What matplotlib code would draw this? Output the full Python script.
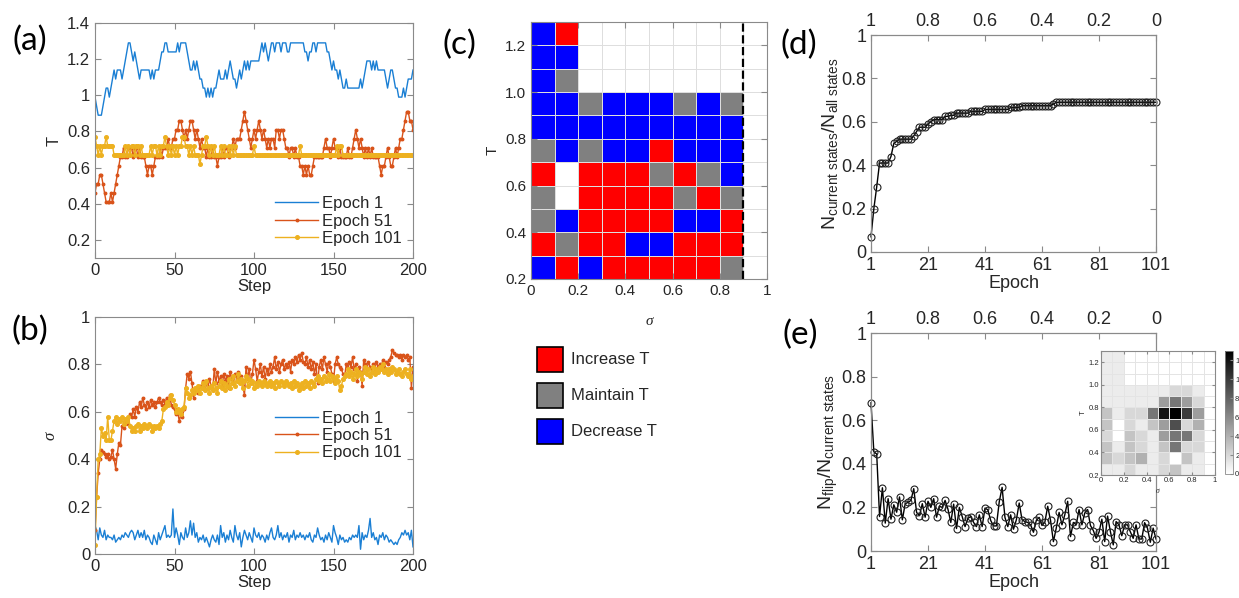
import matplotlib.pyplot as plt
import numpy as np
from matplotlib.colors import ListedColormap, BoundaryNorm
from matplotlib.patches import Rectangle

plt.rcParams['font.family'] = ['Liberation Sans', 'DejaVu Sans']
plt.rcParams['mathtext.fontset'] = 'custom'
plt.rcParams['mathtext.rm'] = 'Liberation Sans'
plt.rcParams['mathtext.it'] = 'Liberation Sans:italic'

# ---------------- data ----------------
steps = np.arange(201)
epochs = np.arange(1, 102)

# (a) temperature T along the 200 steps
T_epoch1 = [
    0.99, 0.94, 0.89, 0.89, 0.89, 0.94, 0.99, 1.04, 1.04, 0.99,
    1.04, 1.09, 1.14, 1.09, 1.14, 1.14, 1.14, 1.09, 1.14, 1.19,
    1.24, 1.29, 1.29, 1.24, 1.19, 1.24, 1.19, 1.14, 1.09, 1.14,
    1.14, 1.14, 1.14, 1.14, 1.14, 1.09, 1.14, 1.09, 1.14, 1.14,
    1.14, 1.19, 1.24, 1.24, 1.29, 1.29, 1.24, 1.24, 1.24, 1.24,
    1.24, 1.24, 1.29, 1.24, 1.29, 1.29, 1.29, 1.29, 1.24, 1.19,
    1.14, 1.14, 1.19, 1.14, 1.19, 1.14, 1.09, 1.09, 1.04, 1.04,
    0.99, 1.04, 0.99, 1.04, 0.99, 1.04, 1.04, 1.09, 1.14, 1.09,
    1.09, 1.09, 1.14, 1.09, 1.14, 1.19, 1.14, 1.09, 1.09, 1.04,
    1.09, 1.14, 1.09, 1.14, 1.19, 1.14, 1.19, 1.14, 1.19, 1.19,
    1.19, 1.19, 1.19, 1.19, 1.24, 1.29, 1.24, 1.29, 1.24, 1.19,
    1.24, 1.29, 1.29, 1.24, 1.29, 1.29, 1.29, 1.24, 1.29, 1.29,
    1.29, 1.24, 1.24, 1.29, 1.29, 1.29, 1.29, 1.29, 1.29, 1.29,
    1.29, 1.29, 1.24, 1.24, 1.19, 1.24, 1.24, 1.29, 1.29, 1.24,
    1.29, 1.29, 1.29, 1.29, 1.29, 1.29, 1.24, 1.24, 1.19, 1.14,
    1.19, 1.14, 1.14, 1.09, 1.14, 1.09, 1.04, 1.04, 1.09, 1.04,
    1.04, 1.04, 1.04, 1.04, 1.04, 1.04, 1.04, 1.09, 1.04, 1.09,
    1.14, 1.19, 1.19, 1.19, 1.14, 1.19, 1.14, 1.19, 1.14, 1.14,
    1.14, 1.14, 1.14, 1.09, 1.04, 1.09, 1.14, 1.14, 1.09, 1.04,
    1.04, 0.99, 0.99, 0.99, 1.04, 0.99, 1.04, 1.09, 1.09, 1.09,
    1.14]
T_epoch51 = [
    0.46, 0.51, 0.51, 0.56, 0.56, 0.51, 0.46, 0.41, 0.41, 0.41,
    0.46, 0.41, 0.46, 0.51, 0.56, 0.61, 0.66, 0.66, 0.71, 0.66,
    0.66, 0.71, 0.71, 0.71, 0.66, 0.71, 0.71, 0.66, 0.71, 0.66,
    0.66, 0.66, 0.61, 0.56, 0.61, 0.61, 0.56, 0.61, 0.66, 0.66,
    0.66, 0.71, 0.66, 0.71, 0.71, 0.71, 0.76, 0.71, 0.71, 0.76,
    0.76, 0.81, 0.81, 0.86, 0.86, 0.81, 0.76, 0.81, 0.76, 0.81,
    0.86, 0.86, 0.81, 0.76, 0.81, 0.76, 0.71, 0.76, 0.71, 0.71,
    0.66, 0.71, 0.66, 0.66, 0.71, 0.66, 0.66, 0.61, 0.66, 0.66,
    0.71, 0.66, 0.71, 0.71, 0.66, 0.71, 0.71, 0.76, 0.71, 0.76,
    0.76, 0.76, 0.81, 0.86, 0.91, 0.86, 0.81, 0.76, 0.71, 0.76,
    0.81, 0.76, 0.81, 0.86, 0.81, 0.76, 0.81, 0.76, 0.71, 0.76,
    0.71, 0.76, 0.76, 0.71, 0.81, 0.81, 0.76, 0.81, 0.81, 0.76,
    0.71, 0.71, 0.66, 0.71, 0.71, 0.66, 0.71, 0.66, 0.66, 0.61,
    0.61, 0.56, 0.61, 0.56, 0.61, 0.56, 0.56, 0.61, 0.66, 0.66,
    0.66, 0.66, 0.66, 0.66, 0.71, 0.76, 0.71, 0.71, 0.66, 0.71,
    0.76, 0.71, 0.71, 0.66, 0.71, 0.66, 0.66, 0.66, 0.66, 0.71,
    0.66, 0.66, 0.71, 0.76, 0.81, 0.76, 0.71, 0.76, 0.71, 0.66,
    0.71, 0.66, 0.71, 0.66, 0.71, 0.66, 0.66, 0.66, 0.66, 0.61,
    0.56, 0.61, 0.61, 0.66, 0.71, 0.66, 0.61, 0.61, 0.66, 0.71,
    0.66, 0.71, 0.76, 0.76, 0.81, 0.86, 0.91, 0.91, 0.86, 0.86,
    0.81]
T_epoch101 = ([
    0.77, 0.72, 0.67, 0.72, 0.67, 0.72, 0.72, 0.77, 0.72, 0.72,
    0.72, 0.72, 0.67, 0.67, 0.67, 0.67, 0.67, 0.67, 0.67, 0.72,
    0.67, 0.72, 0.67, 0.72, 0.72, 0.67, 0.72, 0.72, 0.67, 0.72,
    0.67, 0.67, 0.67, 0.67, 0.67, 0.72, 0.67, 0.72, 0.72, 0.67,
    0.72, 0.67, 0.72, 0.72, 0.77, 0.72, 0.67, 0.72, 0.67, 0.72,
    0.67, 0.72, 0.67, 0.72, 0.72, 0.77, 0.77, 0.72, 0.72, 0.67,
    0.72, 0.67, 0.72, 0.67, 0.67, 0.67, 0.62, 0.67, 0.72, 0.72,
    0.77, 0.72, 0.67, 0.72, 0.67, 0.72, 0.67, 0.67, 0.67, 0.72,
    0.67, 0.72, 0.67, 0.67, 0.72, 0.67, 0.72, 0.67, 0.72, 0.67]
    + [0.67] * 10 + [0.72] + [0.67] * 28 + [0.72] + [0.67] * 22
    + [0.72, 0.67, 0.72, 0.72] + [0.67] * 45)

# (b) sigma along the 200 steps
S_epoch1 = [
    0.12, 0.10, 0.06, 0.11, 0.08, 0.07, 0.10, 0.06, 0.08, 0.07,
    0.07, 0.06, 0.08, 0.05, 0.06, 0.07, 0.06, 0.08, 0.07, 0.09,
    0.08, 0.07, 0.09, 0.10, 0.09, 0.06, 0.08, 0.10, 0.07, 0.09,
    0.07, 0.10, 0.06, 0.08, 0.07, 0.05, 0.04, 0.08, 0.06, 0.04,
    0.09, 0.06, 0.08, 0.10, 0.12, 0.07, 0.08, 0.07, 0.08, 0.19,
    0.07, 0.11, 0.08, 0.04, 0.09, 0.07, 0.06, 0.11, 0.07, 0.09,
    0.14, 0.08, 0.13, 0.07, 0.09, 0.05, 0.07, 0.06, 0.08, 0.05,
    0.07, 0.05, 0.03, 0.06, 0.08, 0.06, 0.05, 0.08, 0.04, 0.12,
    0.07, 0.09, 0.05, 0.08, 0.06, 0.10, 0.07, 0.05, 0.12, 0.08,
    0.06, 0.09, 0.03, 0.07, 0.10, 0.08, 0.06, 0.09, 0.07, 0.05,
    0.11, 0.08, 0.07, 0.09, 0.06, 0.08, 0.07, 0.05, 0.08, 0.06,
    0.09, 0.11, 0.07, 0.06, 0.08, 0.12, 0.07, 0.09, 0.06, 0.08,
    0.07, 0.09, 0.05, 0.08, 0.07, 0.10, 0.06, 0.08, 0.07, 0.09,
    0.07, 0.08, 0.06, 0.08, 0.07, 0.09, 0.06, 0.05, 0.08, 0.07,
    0.11, 0.08, 0.06, 0.07, 0.05, 0.08, 0.06, 0.09, 0.07, 0.05,
    0.12, 0.09, 0.07, 0.04, 0.08, 0.06, 0.07, 0.05, 0.06, 0.05,
    0.07, 0.06, 0.08, 0.07, 0.08, 0.07, 0.12, 0.02, 0.09, 0.06,
    0.08, 0.07, 0.10, 0.15, 0.07, 0.09, 0.06, 0.07, 0.04, 0.08,
    0.07, 0.09, 0.06, 0.08, 0.07, 0.05, 0.06, 0.05, 0.04, 0.05,
    0.04, 0.06, 0.07, 0.09, 0.08, 0.10, 0.08, 0.09, 0.06, 0.10,
    0.03]
S_epoch51 = [
    0.10, 0.24, 0.34, 0.40, 0.44, 0.43, 0.42, 0.41, 0.42, 0.40,
    0.41, 0.44, 0.40, 0.36, 0.42, 0.47, 0.46, 0.54, 0.53, 0.55,
    0.57, 0.55, 0.59, 0.58, 0.61, 0.58, 0.62, 0.60, 0.64, 0.62,
    0.66, 0.63, 0.61, 0.64, 0.62, 0.65, 0.63, 0.64, 0.62, 0.64,
    0.66, 0.64, 0.63, 0.65, 0.63, 0.66, 0.64, 0.67, 0.63, 0.62,
    0.61, 0.59, 0.60, 0.56, 0.59, 0.58, 0.61, 0.70, 0.76, 0.74,
    0.77, 0.72, 0.66, 0.69, 0.70, 0.68, 0.71, 0.70, 0.73, 0.69,
    0.72, 0.70, 0.74, 0.71, 0.69, 0.78, 0.72, 0.77, 0.73, 0.75,
    0.71, 0.76, 0.73, 0.75, 0.70, 0.77, 0.74, 0.72, 0.76, 0.74,
    0.77, 0.73, 0.75, 0.71, 0.67, 0.79, 0.74, 0.78, 0.72, 0.76,
    0.82, 0.78, 0.73, 0.77, 0.80, 0.75, 0.79, 0.74, 0.78, 0.76,
    0.80, 0.77, 0.79, 0.83, 0.78, 0.81, 0.77, 0.80, 0.82, 0.78,
    0.80, 0.79, 0.81, 0.77, 0.82, 0.80, 0.83, 0.81, 0.84, 0.82,
    0.85, 0.81, 0.80, 0.83, 0.79, 0.82, 0.78, 0.81, 0.76, 0.80,
    0.72, 0.79, 0.82, 0.78, 0.83, 0.80, 0.77, 0.81, 0.79, 0.76,
    0.73, 0.80, 0.83, 0.80, 0.79, 0.78, 0.76, 0.75, 0.80, 0.78,
    0.81, 0.79, 0.83, 0.78, 0.80, 0.73, 0.79, 0.77, 0.71, 0.82,
    0.80, 0.78, 0.81, 0.79, 0.77, 0.80, 0.78, 0.81, 0.79, 0.80,
    0.78, 0.82, 0.79, 0.81, 0.80, 0.82, 0.83, 0.86, 0.85, 0.84,
    0.84, 0.83, 0.84, 0.82, 0.84, 0.83, 0.84, 0.82, 0.83, 0.70,
    0.79]
S_epoch101 = [
    0.04, 0.24, 0.40, 0.42, 0.53, 0.50, 0.51, 0.48, 0.58, 0.48,
    0.48, 0.52, 0.56, 0.58, 0.55, 0.57, 0.56, 0.58, 0.55, 0.57,
    0.56, 0.58, 0.54, 0.52, 0.53, 0.52, 0.54, 0.55, 0.52, 0.54,
    0.53, 0.55, 0.54, 0.53, 0.55, 0.54, 0.52, 0.54, 0.53, 0.54,
    0.53, 0.55, 0.56, 0.61, 0.62, 0.64, 0.63, 0.66, 0.67, 0.65,
    0.63, 0.60, 0.61, 0.60, 0.59, 0.61, 0.62, 0.70, 0.68, 0.66,
    0.67, 0.69, 0.68, 0.70, 0.69, 0.71, 0.68, 0.70, 0.72, 0.69,
    0.73, 0.70, 0.68, 0.71, 0.69, 0.72, 0.70, 0.68, 0.71, 0.73,
    0.70, 0.72, 0.69, 0.71, 0.74, 0.70, 0.72, 0.75, 0.71, 0.73,
    0.76, 0.72, 0.74, 0.70, 0.73, 0.75, 0.71, 0.74, 0.72, 0.73,
    0.70, 0.72, 0.71, 0.73, 0.72, 0.71, 0.73, 0.72, 0.71, 0.72,
    0.73, 0.71, 0.72, 0.70, 0.73, 0.72, 0.71, 0.73, 0.72, 0.71,
    0.73, 0.72, 0.71, 0.72, 0.70, 0.73, 0.71, 0.72, 0.69, 0.71,
    0.72, 0.70, 0.73, 0.71, 0.72, 0.70, 0.73, 0.72, 0.71, 0.74,
    0.75, 0.73, 0.74, 0.72, 0.75, 0.73, 0.74, 0.76, 0.73, 0.75,
    0.74, 0.72, 0.75, 0.73, 0.69, 0.71, 0.74, 0.75, 0.76, 0.78,
    0.75, 0.77, 0.74, 0.76, 0.78, 0.75, 0.77, 0.76, 0.74, 0.77,
    0.79, 0.76, 0.78, 0.75, 0.77, 0.79, 0.76, 0.78, 0.77, 0.79,
    0.78, 0.80, 0.77, 0.78, 0.76, 0.78, 0.77, 0.79, 0.78, 0.76,
    0.77, 0.78, 0.76, 0.75, 0.77, 0.78, 0.76, 0.75, 0.78, 0.74,
    0.75]

# (c) policy map: W = not visited, R = increase, G = maintain, B = decrease
sigma_bins = [0.0, 0.1, 0.2, 0.3, 0.4, 0.5, 0.6, 0.7, 0.8, 0.9, 1.0]
T_bins = [0.2, 0.3, 0.4, 0.5, 0.6, 0.7, 0.8, 0.9, 1.0, 1.1, 1.2, 1.3]
policy_rows = [          # top row (T 1.2-1.3) first
    "BRWWWWWWWW",
    "BBWWWWWWWW",
    "BGWWWWWWWW",
    "BBGBBBGBGW",
    "BBBBBBBBBW",
    "GBGBBRBBBW",
    "RWRRRGRGBW",
    "GWRRRRGRGW",
    "GBRRRRBBRW",
    "RGRRBBRRRW",
    "BRBRRRRRGW",
]
sigma_limit = 0.9
action_labels = ["Increase T", "Maintain T", "Decrease T"]
action_colors = ["#ff0000", "#808080", "#0000ff"]

# (d) fraction of visited states
visited_frac = [
    0.07, 0.20, 0.30, 0.41, 0.41, 0.41, 0.41, 0.44, 0.50, 0.51,
    0.52, 0.52, 0.52, 0.52, 0.52, 0.535, 0.555, 0.575, 0.575, 0.575,
    0.59, 0.60, 0.61, 0.61, 0.61, 0.61, 0.625, 0.625, 0.63, 0.63,
    0.64, 0.64, 0.64, 0.64, 0.64, 0.648, 0.648, 0.648, 0.648, 0.648,
    0.657, 0.657, 0.657, 0.657, 0.657, 0.657, 0.657, 0.657, 0.657, 0.666,
    0.666, 0.666, 0.666, 0.674, 0.674, 0.674, 0.674, 0.674, 0.674, 0.674,
    0.674, 0.674, 0.674, 0.674, 0.682, 0.69, 0.69, 0.69, 0.69, 0.69,
    0.69, 0.69, 0.69, 0.69, 0.69, 0.69, 0.69, 0.69, 0.69, 0.69,
    0.69, 0.69, 0.69, 0.69, 0.69, 0.69, 0.69, 0.69, 0.69, 0.69,
    0.69, 0.69, 0.69, 0.69, 0.69, 0.69, 0.69, 0.69, 0.69, 0.69,
    0.69]

# (e) fraction of flipped states
flip_frac = [
    0.68, 0.455, 0.445, 0.158, 0.29, 0.128, 0.24, 0.146, 0.212, 0.178,
    0.248, 0.143, 0.217, 0.223, 0.232, 0.286, 0.177, 0.162, 0.217, 0.155,
    0.228, 0.20, 0.24, 0.155, 0.205, 0.20, 0.232, 0.192, 0.131, 0.215,
    0.103, 0.20, 0.158, 0.112, 0.15, 0.158, 0.131, 0.112, 0.166, 0.112,
    0.197, 0.189, 0.14, 0.115, 0.115, 0.226, 0.292, 0.154, 0.112, 0.166,
    0.10, 0.143, 0.22, 0.143, 0.135, 0.131, 0.12, 0.086, 0.14, 0.154,
    0.117, 0.132, 0.205, 0.14, 0.043, 0.105, 0.177, 0.12, 0.166, 0.228,
    0.066, 0.131, 0.12, 0.19, 0.12, 0.174, 0.19, 0.117, 0.094, 0.058,
    0.086, 0.146, 0.043, 0.16, 0.089, 0.028, 0.135, 0.12, 0.07, 0.12,
    0.12, 0.088, 0.058, 0.12, 0.055, 0.055, 0.13, 0.105, 0.04, 0.105,
    0.055]

# (e) inset: flip counts per state, top row (T 1.2-1.3) first
flip_counts = [
    [1, 1, 0, 0, 0, 0, 0, 0, 0, 0],
    [1, 1, 0, 0, 0, 0, 0, 0, 0, 0],
    [1, 1, 0, 0, 0, 0, 0, 0, 0, 0],
    [1, 1, 1, 1, 1, 1, 2, 2, 1, 0],
    [1, 1, 1, 1, 1, 5, 7, 5, 2, 0],
    [3, 1, 2, 2, 7, 12, 13, 10, 5, 0],
    [3, 0, 2, 1, 3, 5, 9, 2, 4, 0],
    [2, 0, 3, 2, 1, 5, 7, 7, 2, 0],
    [3, 1, 3, 2, 1, 3, 7, 2, 2, 0],
    [3, 2, 3, 4, 1, 2, 0, 3, 1, 0],
    [1, 1, 2, 1, 1, 2, 3, 1, 1, 0],
]

epoch_ticks = [1, 21, 41, 61, 81, 101]
eps_labels = ['1', '0.8', '0.6', '0.4', '0.2', '0']

C_BLUE = '#1a7fd4'
C_RED = '#d9531a'
C_YEL = '#edb120'
SPINE = '#8a8a8a'
TXT = '#262626'


def matlab_style(ax, fs=12, top=True, right=True):
    for sp in ax.spines.values():
        sp.set_color(SPINE)
        sp.set_linewidth(0.8)
    ax.tick_params(which='both', direction='in', top=top, right=right,
                   color=SPINE, labelcolor=TXT, labelsize=fs, length=4, width=0.8)


fig = plt.figure(figsize=(12.39, 5.98), dpi=100)
W, H = 1239.0, 598.0


def add_ax(l, t, r, b):
    return fig.add_axes([l / W, 1 - b / H, (r - l) / W, (b - t) / H])


# ---------------- (a) ----------------
ax_a = add_ax(95, 23, 413, 258)
ax_a.plot(steps, T_epoch1, color=C_BLUE, lw=1.0, label='Epoch 1')
ax_a.plot(steps, T_epoch51, color=C_RED, lw=1.0, marker='o', ms=1.8, label='Epoch 51')
ax_a.plot(steps, T_epoch101, color=C_YEL, lw=1.0, marker='o', ms=2.6, label='Epoch 101')
ax_a.set_xlim(0, 200)
ax_a.set_ylim(0.1, 1.4)
ax_a.set_xticks([0, 50, 100, 150, 200])
ax_a.set_yticks([0.2, 0.4, 0.6, 0.8, 1.0, 1.2, 1.4])
ax_a.set_yticklabels(['0.2', '0.4', '0.6', '0.8', '1', '1.2', '1.4'])
matlab_style(ax_a)
ax_a.set_xlabel('Step', fontsize=12, color=TXT, labelpad=1)
ax_a.set_ylabel('T', fontsize=12, color=TXT, labelpad=4)
ax_a.legend(loc='lower right', frameon=False, fontsize=12, handlelength=2.6,
            borderaxespad=0.3, labelspacing=0.15, handletextpad=0.2, labelcolor=TXT)

# ---------------- (b) ----------------
ax_b = add_ax(95, 317, 413, 554)
ax_b.plot(steps, S_epoch1, color=C_BLUE, lw=1.0, label='Epoch 1')
ax_b.plot(steps, S_epoch51, color=C_RED, lw=1.0, marker='o', ms=1.8, label='Epoch 51')
ax_b.plot(steps, S_epoch101, color=C_YEL, lw=1.0, marker='o', ms=2.6, label='Epoch 101')
ax_b.set_xlim(0, 200)
ax_b.set_ylim(0, 1)
ax_b.set_xticks([0, 50, 100, 150, 200])
ax_b.set_yticks([0, 0.2, 0.4, 0.6, 0.8, 1.0])
ax_b.set_yticklabels(['0', '0.2', '0.4', '0.6', '0.8', '1'])
matlab_style(ax_b)
ax_b.set_xlabel('Step', fontsize=12, color=TXT, labelpad=1)
ax_b.set_ylabel('σ', fontsize=12, color=TXT, family='Liberation Serif', style='italic', labelpad=6)
ax_b.legend(loc='center right', bbox_to_anchor=(1.0, 0.5), frameon=False, fontsize=12,
            handlelength=2.6, borderaxespad=0.3, labelspacing=0.15, handletextpad=0.2,
            labelcolor=TXT)

# ---------------- (c) ----------------
ax_c = add_ax(531, 22, 767, 279)
code_of = {'W': 0, 'R': 1, 'G': 2, 'B': 3}
codes = np.array([[code_of[ch] for ch in row] for row in policy_rows[::-1]])
cmap_c = ListedColormap(['white'] + action_colors)
norm_c = BoundaryNorm([-0.5, 0.5, 1.5, 2.5, 3.5], cmap_c.N)
ax_c.pcolormesh(sigma_bins, T_bins, codes, cmap=cmap_c, norm=norm_c,
                edgecolors='#dedede', linewidth=0.7)
ax_c.axvline(sigma_limit, color='black', ls='--', lw=1.6)
ax_c.set_xlim(0, 1)
ax_c.set_ylim(0.2, 1.3)
ax_c.set_xticks([0, 0.2, 0.4, 0.6, 0.8, 1.0])
ax_c.set_xticklabels(['0', '0.2', '0.4', '0.6', '0.8', '1'])
ax_c.set_yticks([0.2, 0.4, 0.6, 0.8, 1.0, 1.2])
ax_c.set_yticklabels(['0.2', '0.4', '0.6', '0.8', '1.0', '1.2'])
matlab_style(ax_c, fs=11)
ax_c.set_xlabel('σ', fontsize=11, color=TXT, family='Liberation Serif', style='italic', labelpad=12)
ax_c.set_ylabel('T', fontsize=11, color=TXT, labelpad=4)

# legend of actions under (c)
for i, (lab, col) in enumerate(zip(action_labels, action_colors)):
    y_top = 347 + i * 36
    fig.patches.append(Rectangle((537 / W, 1 - (y_top + 25) / H), 26 / W, 25 / H,
                                 transform=fig.transFigure, facecolor=col,
                                 edgecolor='black', lw=1.2))
    fig.text(571 / W, 1 - (y_top + 12.5) / H, lab, fontsize=12, color=TXT,
             va='center', ha='left')

# ---------------- (d) ----------------
ax_d = add_ax(871, 35, 1156, 252)
ax_d.plot(epochs, visited_frac, color='black', lw=1.0, marker='o', ms=5,
          mfc='none', mec='#202020', mew=0.8, clip_on=False)
ax_d.set_xlim(1, 101)
ax_d.set_ylim(0, 1)
ax_d.set_xticks(epoch_ticks)
ax_d.set_yticks([0, 0.2, 0.4, 0.6, 0.8, 1.0])
ax_d.set_yticklabels(['0', '0.2', '0.4', '0.6', '0.8', '1'])
matlab_style(ax_d, fs=13, top=False)
ax_d.set_xlabel('Epoch', fontsize=13, color=TXT, labelpad=1)
ax_d.set_ylabel(r'$\mathrm{N}_{\mathrm{current\ states}}/\mathrm{N}_{\mathrm{all\ states}}$',
                fontsize=14, color=TXT, labelpad=1)
ax_d2 = ax_d.twiny()
ax_d2.set_xlim(1, 101)
ax_d2.set_xticks(epoch_ticks)
ax_d2.set_xticklabels(eps_labels)
matlab_style(ax_d2, fs=13, right=False)
ax_d2.tick_params(axis='x', bottom=False, top=True, labeltop=True, labelbottom=False)

# ---------------- (e) ----------------
ax_e = add_ax(871, 333, 1156, 551)
ax_e.plot(epochs, flip_frac, color='black', lw=1.0, marker='o', ms=5,
          mfc='none', mec='#202020', mew=0.8, clip_on=False)
ax_e.set_xlim(1, 101)
ax_e.set_ylim(0, 1)
ax_e.set_xticks(epoch_ticks)
ax_e.set_yticks([0, 0.2, 0.4, 0.6, 0.8, 1.0])
ax_e.set_yticklabels(['0', '0.2', '0.4', '0.6', '0.8', '1'])
matlab_style(ax_e, fs=13, top=False)
ax_e.set_xlabel('Epoch', fontsize=13, color=TXT, labelpad=1)
ax_e.set_ylabel(r'$\mathrm{N}_{\mathrm{flip}}/\mathrm{N}_{\mathrm{current\ states}}$',
                fontsize=14, color=TXT, labelpad=1)
ax_e2 = ax_e.twiny()
ax_e2.set_xlim(1, 101)
ax_e2.set_xticks(epoch_ticks)
ax_e2.set_xticklabels(eps_labels)
matlab_style(ax_e2, fs=13, right=False)
ax_e2.tick_params(axis='x', bottom=False, top=True, labeltop=True, labelbottom=False)

# inset heat map
ax_in = add_ax(1101, 351, 1215, 475)
im = ax_in.pcolormesh(sigma_bins, T_bins, np.array(flip_counts[::-1]), cmap='gray_r',
                      vmin=0, vmax=13, edgecolors='#e4e4e4', linewidth=0.4)
ax_in.set_xlim(0, 1)
ax_in.set_ylim(0.2, 1.3)
ax_in.set_xticks([0, 0.2, 0.4, 0.6, 0.8, 1.0])
ax_in.set_xticklabels(['0', '0.2', '0.4', '0.6', '0.8', '1'])
ax_in.set_yticks([0.2, 0.4, 0.6, 0.8, 1.0, 1.2])
ax_in.set_yticklabels(['0.2', '0.4', '0.6', '0.8', '1.0', '1.2'])
matlab_style(ax_in, fs=5.5)
ax_in.tick_params(length=2, pad=1.5)
ax_in.set_xlabel('σ', fontsize=5.5, color=TXT, family='Liberation Serif', style='italic', labelpad=2)
ax_in.set_ylabel('T', fontsize=5.5, color=TXT, labelpad=1)

cax = add_ax(1225, 351, 1233, 474)
cb = fig.colorbar(im, cax=cax, ticks=[0, 2, 4, 6, 8, 10, 12])
cb.outline.set_edgecolor(SPINE)
cb.outline.set_linewidth(0.6)
cax.tick_params(labelsize=5.5, length=2, color=SPINE, labelcolor=TXT, direction='in', pad=1.5)

# ---------------- panel labels ----------------
for lab, x, y in [('(a)', 30, 41), ('(b)', 30, 331), ('(c)', 459, 45),
                  ('(d)', 799, 45), ('(e)', 800, 335)]:
    fig.text(x / W, 1 - y / H, lab, fontsize=24, family='Lato', color='black',
             ha='center', va='center')

fig.savefig('out.png', dpi=100)
